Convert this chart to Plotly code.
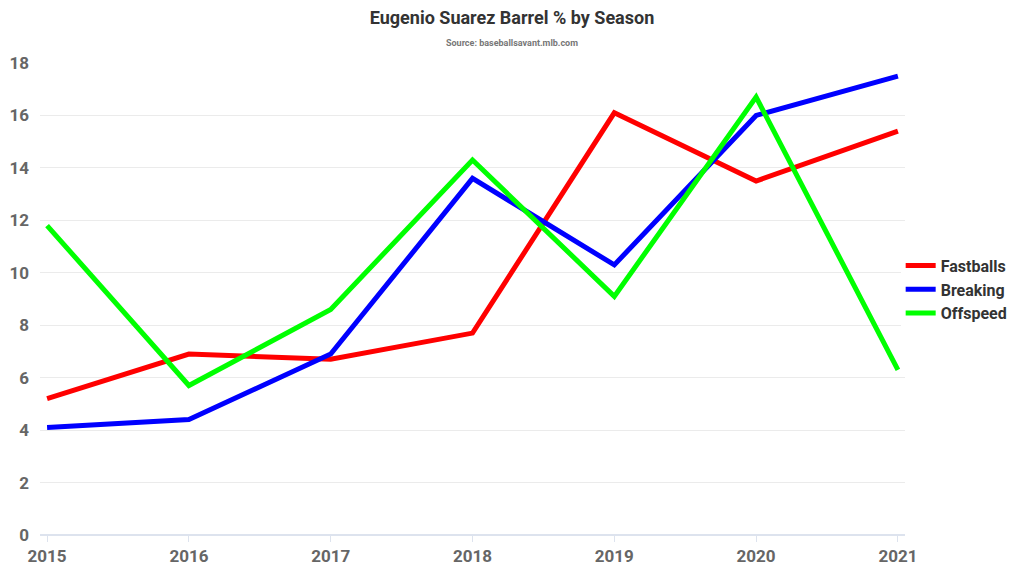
import plotly.graph_objects as go

years = [2015, 2016, 2017, 2018, 2019, 2020, 2021]
fastballs = [5.2, 6.9, 6.7, 7.7, 16.1, 13.5, 15.4]
breaking = [4.1, 4.4, 6.9, 13.6, 10.3, 16.0, 17.5]
offspeed = [11.8, 5.7, 8.6, 14.3, 9.1, 16.7, 6.3]

series = [("Fastballs", fastballs, "#ff0000"),
          ("Breaking", breaking, "#0000ff"),
          ("Offspeed", offspeed, "#00ff00")]

FONT = "Roboto"

fig = go.Figure()
for name, vals, col in series:
    fig.add_trace(go.Scatter(x=years, y=vals, mode="lines", name=name,
                             line=dict(color=col, width=5)))

fig.update_layout(
    width=1024, height=576,
    margin=dict(l=40, r=119, t=63, b=41, autoexpand=False),
    paper_bgcolor="white", plot_bgcolor="white",
    font=dict(family=FONT, color="#666666"),
    showlegend=True,
    legend=dict(x=0.995, y=0.52, xanchor="left", yanchor="middle",
                font=dict(size=16, color="#333333", family=FONT, weight="bold"),
                itemwidth=30, tracegroupgap=0),
    title=dict(text="<b>Eugenio Suarez Barrel % by Season</b>", x=0.5, xanchor="center",
               y=1 - 18/576, yanchor="middle",
               font=dict(size=18, color="#333333", family=FONT),
               subtitle=dict(text="<b>Source: baseballsavant.mlb.com</b>",
                             font=dict(size=9, color="#777777", family=FONT))),
)
fig.update_xaxes(range=[2014.95, 2021.05], tickmode="array", tickvals=years,
                 ticktext=[str(y) for y in years], showgrid=False,
                 ticks="outside", ticklen=6, tickcolor="#dde3ee",
                 showline=False, zeroline=False,
                 tickfont=dict(size=17, color="#666666", family=FONT, weight="bold"))
fig.update_yaxes(range=[0, 18], dtick=2, showgrid=True, gridcolor="#ebebeb",
                 zeroline=True, zerolinecolor="#dde3ee", zerolinewidth=1.5,
                 ticks="", ticklabelstandoff=10,
                 tickfont=dict(size=17, color="#666666", family=FONT, weight="bold"))

fig.write_html("out.html")
